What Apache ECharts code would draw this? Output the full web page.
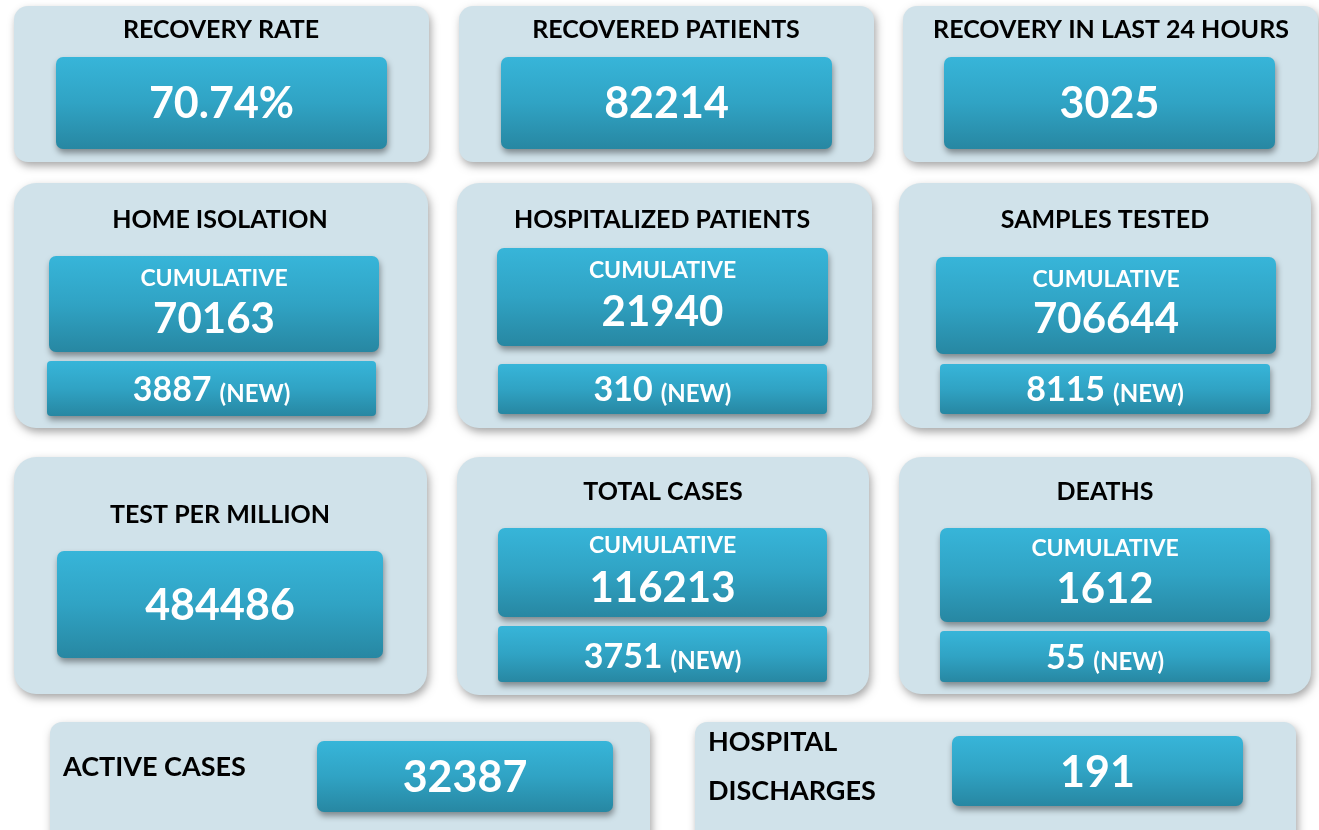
<!DOCTYPE html>
<html>
<head>
<meta charset="utf-8">
<script src="https://cdn.jsdelivr.net/npm/echarts@6/dist/echarts.min.js"></script>
<style>
  html, body { margin: 0; padding: 0; background: #ffffff; }
  #view { width: 1319px; height: 830px; }
</style>
</head>
<body>
<div id="view"></div>
<script>
// card data
const titles = [
  "RECOVERY RATE", "RECOVERED PATIENTS", "RECOVERY IN LAST 24 HOURS",
  "HOME ISOLATION", "HOSPITALIZED PATIENTS", "SAMPLES TESTED",
  "TEST PER MILLION", "TOTAL CASES", "DEATHS",
  "ACTIVE CASES", "HOSPITAL\nDISCHARGES"
];
const mainValues = [
  "70.74%", "82214", "3025",
  "70163", "21940", "706644",
  "484486", "116213", "1612",
  "32387", "191"
];
const newValues = [null, null, null, "3887", "310", "8115", null, "3751", "55", null, null];
const cumulativeLabel = "CUMULATIVE";
const newLabel = "(NEW)";

const FONT = "Lato, 'Open Sans', sans-serif";
const PANEL = "#d0e2ea";
const boxFill = new echarts.graphic.LinearGradient(0, 0, 0, 1, [
  { offset: 0, color: "#37b5d9" },
  { offset: 0.5, color: "#30a3c4" },
  { offset: 1, color: "#2787a2" }
]);

// layout: panel rect, title pos, value box, optional cumulative box + new box
const layout = [
  { p: [14, 6, 415, 156, 14], t: [221, 30], b: [56, 57, 331, 92], v: 104 },
  { p: [459, 6, 415, 156, 14], t: [666, 30], b: [501, 57, 331, 92], v: 104 },
  { p: [903, 6, 415, 156, 14], t: [1111, 30], b: [944, 57, 331, 92], v: 104 },
  { p: [14, 183, 414, 245, 22], t: [220, 220], b: [49, 256, 330, 96], c: 279, v: 319, n: [47, 361, 329, 55], nv: 390 },
  { p: [457, 183, 415, 245, 22], t: [662, 220], b: [497, 248, 331, 98], c: 271, v: 312, n: [498, 364, 329, 50], nv: 390 },
  { p: [899, 183, 412, 245, 22], t: [1105, 220], b: [936, 257, 340, 97], c: 280, v: 319, n: [940, 364, 330, 50], nv: 390 },
  { p: [14, 457, 413, 237, 22], t: [220, 515], b: [57, 551, 326, 107], v: 606 },
  { p: [457, 457, 412, 238, 22], t: [663, 492], b: [498, 528, 329, 89], c: 546, v: 588, n: [498, 626, 329, 56], nv: 657 },
  { p: [899, 457, 412, 237, 22], t: [1105, 492], b: [940, 528, 330, 94], c: 549, v: 589, n: [940, 631, 330, 51], nv: 658 },
  { p: [50, 722, 600, 130, 12], t: [63, 767], left: true, b: [317, 741, 296, 71], v: 778 },
  { p: [695, 722, 601, 130, 12], t: [708, 767], left: true, b: [952, 736, 291, 70], v: 773 }
];

function rect(x, y, w, h, r, fill, shadow) {
  return {
    type: "rect",
    shape: { x: x, y: y, width: w, height: h, r: r },
    style: {
      fill: fill,
      shadowBlur: shadow[0],
      shadowOffsetX: shadow[1],
      shadowOffsetY: shadow[2],
      shadowColor: shadow[3]
    }
  };
}

function txt(x, y, text, size, color, align, extra) {
  return {
    type: "text",
    x: x,
    y: y,
    style: Object.assign({
      text: text,
      fill: color,
      font: "bold " + size + "px " + FONT,
      align: align || "center",
      verticalAlign: "middle"
    }, extra || {})
  };
}

let elements = [];
layout.forEach((one, i) => {
  let p = one.p;
  elements.push(rect(p[0], p[1], p[2], p[3], p[4], PANEL, [8, 2, 4, "rgba(0,0,0,0.35)"]));
  if (one.left) {
    elements.push(txt(one.t[0], one.t[1], titles[i], 27, "#000", "left", { lineHeight: 49 }));
  } else {
    elements.push(txt(one.t[0], one.t[1], titles[i], 25, "#000"));
  }
  let b = one.b;
  let cx = b[0] + b[2] / 2;
  elements.push(rect(b[0], b[1], b[2], b[3], 7, boxFill, [6, 1, 4, "rgba(0,0,0,0.4)"]));
  if (one.c) {
    elements.push(txt(cx, one.c, cumulativeLabel, 23, "#fff"));
    elements.push(txt(cx, one.v, mainValues[i], 42, "#fff"));
    let n = one.n;
    elements.push(rect(n[0], n[1], n[2], n[3], 4, boxFill, [6, 1, 4, "rgba(0,0,0,0.4)"]));
    elements.push({
      type: "text",
      x: n[0] + n[2] / 2,
      y: one.nv,
      style: {
        text: "{a|" + newValues[i] + "}{b|" + newLabel + "}",
        align: "center",
        verticalAlign: "middle",
        rich: {
          a: { fill: "#fff", font: "bold 34px " + FONT, verticalAlign: "bottom" },
          b: { fill: "#fff", font: "bold 24px " + FONT, verticalAlign: "bottom", padding: [0, 0, 1, 8] }
        }
      }
    });
  } else {
    elements.push(txt(cx, one.v, mainValues[i], 43, "#fff"));
  }
});

let myChart = echarts.init(document.getElementById("view"), null, { renderer: "canvas" });
myChart.setOption({
  backgroundColor: "#ffffff",
  animation: false,
  graphic: { elements: elements }
});
</script>
</body>
</html>
